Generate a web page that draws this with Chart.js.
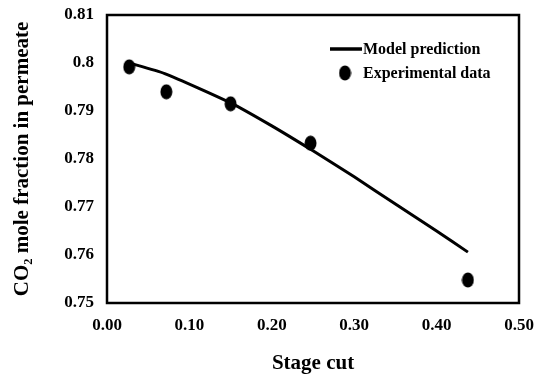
<!DOCTYPE html>
<html>
<head>
<meta charset="utf-8">
<script src="https://cdn.jsdelivr.net/npm/chart.js@4/dist/chart.umd.min.js"></script>
<style>
  html, body { margin: 0; padding: 0; background: #fff; }
  #wrap { width: 535px; height: 376px; }
</style>
</head>
<body>
<div id="wrap"><canvas id="chart" width="535" height="376"></canvas></div>
<script>
// model curve (stage cut, CO2 fraction)
var modelX = [0.025, 0.07, 0.15, 0.2, 0.25, 0.3, 0.35, 0.4, 0.438];
var modelY = [0.8001, 0.7978, 0.7917, 0.7869, 0.7817, 0.7763, 0.7706, 0.765, 0.7606];

// experimental points
var expX = [0.027, 0.072, 0.15, 0.247, 0.438];
var expY = [0.7992, 0.794, 0.7915, 0.7833, 0.7548];

var xTicks = [0, 0.1, 0.2, 0.3, 0.4, 0.5];
var yTicks = [0.75, 0.76, 0.77, 0.78, 0.79, 0.8, 0.81];

var serif = "'Liberation Serif', 'Times New Roman', serif";

function toPoints(xs, ys) {
  return xs.map(function (x, i) {
    return { x: x, y: ys[i] };
  });
}

// slightly tall ellipse marker like in the figure
function dotImage() {
  var c = document.createElement("canvas");
  c.width = 13;
  c.height = 16;
  var g = c.getContext("2d");
  g.fillStyle = "#000";
  g.beginPath();
  g.ellipse(6.5, 8, 6, 7.5, 0, 0, Math.PI * 2);
  g.fill();
  return c;
}
var dot = dotImage();

var frameAndLegend = {
  id: "frameAndLegend",
  afterDraw: function (chart) {
    var ctx = chart.ctx;
    var a = chart.chartArea;
    ctx.save();
    ctx.strokeStyle = "#000";
    ctx.lineWidth = 2.5;
    ctx.strokeRect(a.left, a.top, a.right - a.left, a.bottom - a.top);

    var ds = chart.data.datasets;
    var lx = a.left + 223;
    var ty = a.top + 34;
    ctx.lineWidth = 3.5;
    ctx.beginPath();
    ctx.moveTo(lx, ty);
    ctx.lineTo(lx + 32, ty);
    ctx.stroke();
    ctx.drawImage(dot, lx + 15 - 6.5, ty + 24 - 8);

    ctx.fillStyle = "#000";
    ctx.font = "bold 16px " + serif;
    ctx.textBaseline = "middle";
    ctx.textAlign = "left";
    ctx.fillText(ds[0].label, lx + 33, ty + 1);
    ctx.fillText(ds[1].label, lx + 33, ty + 25);
    ctx.restore();
  },
};

new Chart(document.getElementById("chart"), {
  type: "scatter",
  data: {
    datasets: [
      {
        label: "Model prediction",
        data: toPoints(modelX, modelY),
        showLine: true,
        borderColor: "#000",
        borderWidth: 3,
        tension: 0.2,
        pointRadius: 0,
        order: 2,
      },
      {
        label: "Experimental data",
        data: toPoints(expX, expY),
        pointStyle: dot,
        pointRadius: 7,
        backgroundColor: "#000",
        borderColor: "#000",
        order: 1,
      },
    ],
  },
  plugins: [frameAndLegend],
  options: {
    responsive: false,
    animation: false,
    layout: { autoPadding: false, padding: { top: 15, right: 16, left: 0, bottom: 0 } },
    plugins: {
      legend: { display: false },
      tooltip: { enabled: false },
    },
    scales: {
      x: {
        type: "linear",
        min: 0,
        max: 0.5,
        afterBuildTicks: function (scale) {
          scale.ticks = xTicks.map(function (v) {
            return { value: v };
          });
        },
        afterFit: function (scale) {
          scale.height = 73;
          scale.paddingLeft = 0;
          scale.paddingRight = 0;
        },
        ticks: {
          color: "#000",
          padding: 12,
          maxRotation: 0,
          font: { family: serif, size: 17, weight: "bold" },
          callback: function (v) {
            return Number(v).toFixed(2);
          },
        },
        grid: { display: false, drawTicks: false },
        border: { display: false },
        title: {
          display: true,
          text: "Stage cut",
          color: "#000",
          padding: { top: 0, bottom: 0 },
          font: { family: serif, size: 21, weight: "bold" },
        },
      },
      y: {
        type: "linear",
        min: 0.75,
        max: 0.81,
        afterBuildTicks: function (scale) {
          scale.ticks = yTicks.map(function (v) {
            return { value: v };
          });
        },
        afterFit: function (scale) {
          scale.width = 107;
          scale.paddingTop = 0;
          scale.paddingBottom = 0;
        },
        ticks: {
          color: "#000",
          padding: 13,
          font: { family: serif, size: 17, weight: "bold" },
          callback: function (v) {
            return String(Number(Number(v).toFixed(2)));
          },
        },
        grid: { display: false, drawTicks: false },
        border: { display: false },
        title: {
          display: true,
          text: "CO\u2082 mole fraction in permeate",
          color: "#000",
          padding: { top: 10, bottom: 0 },
          font: { family: serif, size: 21, weight: "bold" },
        },
      },
    },
  },
});
</script>
</body>
</html>
